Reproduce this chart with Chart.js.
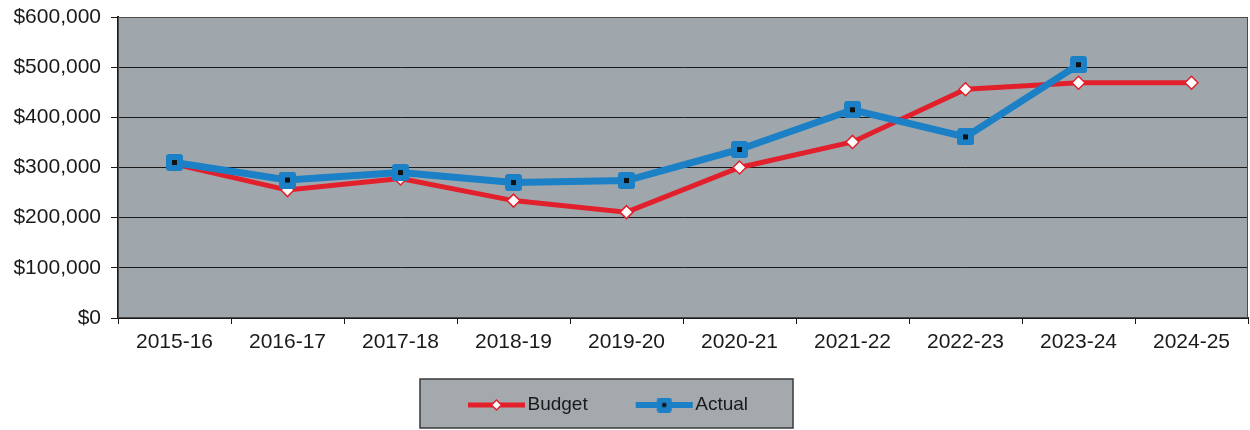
<!DOCTYPE html>
<html>
<head>
<meta charset="utf-8">
<script src="https://cdn.jsdelivr.net/npm/chart.js@4.4.0/dist/chart.umd.min.js"></script>
<style>
  html, body { margin: 0; padding: 0; background: #ffffff; overflow: hidden; }
  #wrap { width: 1250px; height: 430px; position: relative; }
</style>
</head>
<body>
<div id="wrap"><canvas id="chart" width="1250" height="430"></canvas></div>
<script>
// Fiscal years shown on the category axis
const years = ['2015-16', '2016-17', '2017-18', '2018-19', '2019-20',
               '2020-21', '2021-22', '2022-23', '2023-24', '2024-25'];

// Budgeted amount per fiscal year
const budget = [307000, 255000, 278000, 234000, 211000, 300000, 351000, 456000, 469000, 469000];

// Actual amount per fiscal year (no figure yet for the current year)
const actual = [310000, 275000, 290000, 270000, 274000, 336000, 415000, 361000, 505000, null];

// Value-axis tick values
const yTicks = [0, 100000, 200000, 300000, 400000, 500000, 600000];

const RED = '#e2202c';
const BLUE = '#1b80c5';
const PLOT_BG = '#9fa7ad';
const LEGEND_BG = '#a3a9ad';
const INK = '#1a1a1a';
const FONT = "'Liberation Sans', Arial, sans-serif";

// Width reserved for the value axis (labels + tick marks)
const Y_AXIS_WIDTH = 118;

const money = v => '$' + String(v).replace(/\B(?=(\d{3})+(?!\d))/g, ',');

// Square blue marker with a dark centre dot
function actualMarker(size, dot) {
  const c = document.createElement('canvas');
  c.width = size; c.height = size;
  const g = c.getContext('2d');
  g.fillStyle = BLUE;
  g.beginPath();
  g.roundRect(0, 0, size, size, 3);
  g.fill();
  g.fillStyle = '#111';
  g.fillRect((size - dot) / 2, (size - dot) / 2, dot, dot);
  return c;
}

// Legend sample: a short line with the series marker in its middle,
// right-aligned inside a wider transparent canvas so the text sits close to it
const LEG_P = 88;            // pointStyleWidth used by the legend
const LEG_W = LEG_P + 16;    // sample canvas width
const LINE_LEN = 57;
function legendSample(kind) {
  const c = document.createElement('canvas');
  c.width = LEG_W; c.height = 22;
  const g = c.getContext('2d');
  const x1 = LEG_W - 1, x0 = x1 - LINE_LEN, cy = 11, cx = (x0 + x1) / 2;
  g.lineCap = 'butt';
  if (kind === 'budget') {
    g.strokeStyle = RED; g.lineWidth = 5;
    g.beginPath(); g.moveTo(x0, cy); g.lineTo(x1, cy); g.stroke();
    g.fillStyle = '#fff'; g.strokeStyle = RED; g.lineWidth = 1.5;
    g.beginPath();
    g.moveTo(cx, cy - 5); g.lineTo(cx + 5, cy); g.lineTo(cx, cy + 5); g.lineTo(cx - 5, cy);
    g.closePath(); g.fill(); g.stroke();
  } else {
    g.strokeStyle = BLUE; g.lineWidth = 6;
    g.beginPath(); g.moveTo(x0, cy); g.lineTo(x1, cy); g.stroke();
    g.drawImage(actualMarker(15, 4), cx - 7.5, cy - 7.5);
  }
  return c;
}

// Nudge the legend so it sits slightly left of centre, inside its framed box
const LEGEND_SHIFT_X = -35;
const LEGEND_SHIFT_Y = -5.5;

const chartDecor = {
  id: 'chartDecor',
  afterLayout(chart) {
    const lg = chart.legend;
    lg.left += LEGEND_SHIFT_X; lg.right += LEGEND_SHIFT_X;
    lg.top += LEGEND_SHIFT_Y; lg.bottom += LEGEND_SHIFT_Y;
  },
  beforeDraw(chart) {
    const { ctx, chartArea: a } = chart;
    ctx.save();
    ctx.fillStyle = PLOT_BG;
    ctx.fillRect(a.left, a.top, a.right - a.left, a.bottom - a.top);
    const hb = chart.legend.legendHitBoxes;
    if (hb && hb.length === 2) {
      const yc = hb[0].top + hb[0].height / 2;
      const left = hb[0].left - 10;
      const right = hb[1].left + hb[1].width + 45;
      ctx.fillStyle = LEGEND_BG;
      ctx.fillRect(left, yc - 26, right - left, 49);
      ctx.strokeStyle = '#3a3a3a';
      ctx.lineWidth = 1.5;
      ctx.strokeRect(left, yc - 26, right - left, 49);
    }
    ctx.restore();
  },
  beforeDatasetsDraw(chart) {
    const { ctx, chartArea: a } = chart;
    ctx.save();
    ctx.strokeStyle = '#4a4a4a';
    ctx.lineWidth = 1;
    ctx.strokeRect(a.left + 0.5, a.top + 0.5, a.right - a.left - 1, a.bottom - a.top - 1);
    ctx.restore();
  }
};

new Chart(document.getElementById('chart'), {
  type: 'line',
  data: {
    labels: years,
    datasets: [
      {
        label: 'Budget',
        data: budget,
        order: 1,
        borderColor: RED,
        borderWidth: 5,
        tension: 0,
        pointStyle: 'rectRot',
        pointRadius: 6.5,
        pointHoverRadius: 6.5,
        pointBackgroundColor: '#ffffff',
        pointBorderColor: RED,
        pointBorderWidth: 1.5
      },
      {
        label: 'Actual',
        data: actual,
        order: 0,
        borderColor: BLUE,
        borderWidth: 7,
        tension: 0,
        spanGaps: false,
        pointStyle: actualMarker(17, 5),
        pointRadius: 8,
        pointBackgroundColor: BLUE,
        pointBorderColor: BLUE
      }
    ]
  },
  options: {
    responsive: false,
    animation: false,
    events: [],
    layout: { autoPadding: false, padding: { top: 17, right: 2, bottom: 0, left: 0 } },
    plugins: {
      title: { display: false },
      tooltip: { enabled: false },
      legend: {
        position: 'bottom',
        labels: {
          usePointStyle: true,
          pointStyleWidth: LEG_P,
          padding: 10,
          color: INK,
          font: { family: FONT, size: 19 },
          generateLabels: () => [
            { text: 'Budget', pointStyle: legendSample('budget'), fillStyle: 'transparent',
              strokeStyle: 'transparent', lineWidth: 0, hidden: false, datasetIndex: 0, fontColor: INK },
            { text: 'Actual', pointStyle: legendSample('actual'), fillStyle: 'transparent',
              strokeStyle: 'transparent', lineWidth: 0, hidden: false, datasetIndex: 1, fontColor: INK }
          ]
        }
      }
    },
    scales: {
      x: {
        type: 'category',
        offset: true,
        grid: { offset: true, drawOnChartArea: false, drawTicks: true, tickLength: 6, color: INK, lineWidth: 1 },
        border: { display: true, color: INK, width: 2 },
        ticks: { color: INK, font: { family: FONT, size: 21 }, padding: 6, maxRotation: 0, autoSkip: false },
        afterFit(s) { s.height = 73; s.paddingLeft = 0; s.paddingRight = 0; }
      },
      y: {
        min: 0,
        max: 600000,
        afterBuildTicks(s) { s.ticks = yTicks.map(v => ({ value: v })); },
        ticks: { color: INK, font: { family: FONT, size: 21 }, padding: 10, callback: v => money(v) },
        grid: { color: INK, lineWidth: 1, drawTicks: true, tickLength: 7 },
        border: { display: true, color: INK, width: 2 },
        afterFit(s) { s.width = Y_AXIS_WIDTH; s.paddingTop = 0; s.paddingBottom = 0; }
      }
    }
  },
  plugins: [chartDecor]
});
</script>
</body>
</html>
